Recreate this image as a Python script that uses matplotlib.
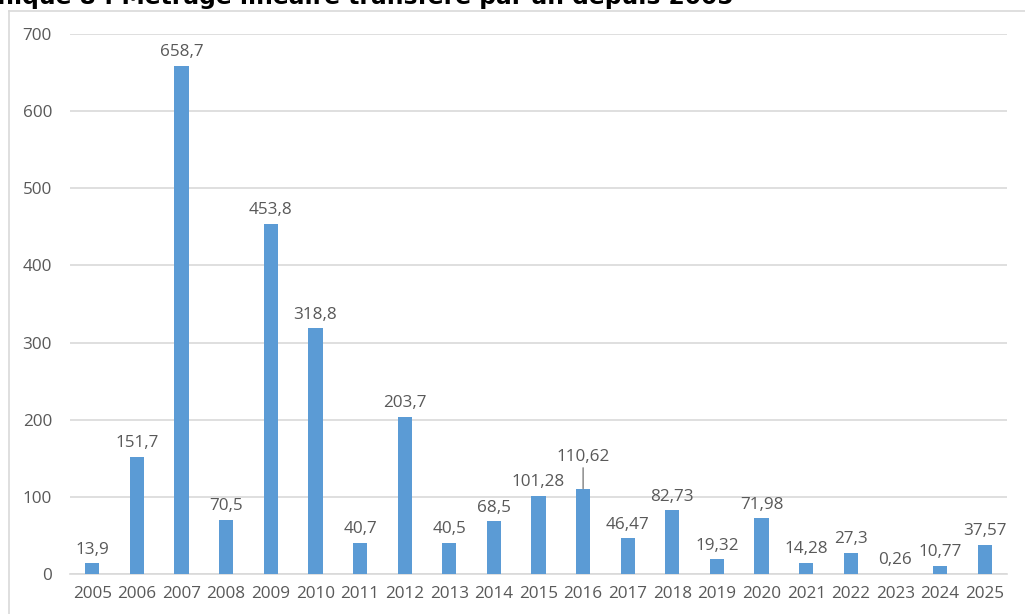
import matplotlib
matplotlib.use("Agg")
import matplotlib.pyplot as plt
from matplotlib.lines import Line2D

years = ['2005', '2006', '2007', '2008', '2009', '2010', '2011', '2012', '2013', '2014',
         '2015', '2016', '2017', '2018', '2019', '2020', '2021', '2022', '2023', '2024', '2025']
metres = [13.9, 151.7, 658.7, 70.5, 453.8, 318.8, 40.7, 203.7, 40.5, 68.5,
          101.28, 110.62, 46.47, 82.73, 19.32, 71.98, 14.28, 27.3, 0.26, 10.77, 37.57]
labels = ['13,9', '151,7', '658,7', '70,5', '453,8', '318,8', '40,7', '203,7', '40,5', '68,5',
          '101,28', '110,62', '46,47', '82,73', '19,32', '71,98', '14,28', '27,3', '0,26', '10,77', '37,57']

grey = '#595959'
plt.rcParams['font.family'] = ['Open Sans', 'DejaVu Sans']

fig = plt.figure(figsize=(10.25, 6.14), dpi=100)
# outer chart frame (left and top edges only visible)
fx = 8.5 / 1025
fy = 1 - 10.5 / 614
fig.lines.append(Line2D([fx, fx], [0, fy], transform=fig.transFigure, color='#D9D9D9', linewidth=1.2))
fig.lines.append(Line2D([fx, 1], [fy, fy], transform=fig.transFigure, color='#D9D9D9', linewidth=1.2))
fig.text(733 / 1025, 1 - 4 / 614, 'Graphique 8 : Métrage linéaire transféré par an depuis 2005',
         ha='right', va='baseline', fontsize=16.8, fontweight='bold', color='black',
         family='DejaVu Sans')

ax = fig.add_axes([70 / 1025, 1 - 574 / 614, 937 / 1025, 540 / 614])
x = range(len(years))
ax.bar(x, metres, width=0.32, color='#5B9BD5', zorder=3)
ax.set_xlim(-0.5, len(years) - 0.5)
ax.set_ylim(0, 700)
ax.set_yticks(range(0, 701, 100))
ax.set_xticks(list(x))
ax.set_xticklabels(years)
ax.grid(axis='y', color='#D9D9D9', linewidth=1.2, zorder=0)
for s in ax.spines.values():
    s.set_visible(False)
ax.spines['bottom'].set_visible(True)
ax.spines['bottom'].set_color('#D9D9D9')
ax.spines['bottom'].set_linewidth(1.2)
ax.tick_params(axis='both', length=0, colors=grey, labelsize=12.3)
ax.tick_params(axis='y', pad=13)
ax.tick_params(axis='x', pad=9)

for i, (v, lab) in enumerate(zip(metres, labels)):
    if lab == '110,62':
        ax.annotate(lab, xy=(i, v), xytext=(0, 17), textcoords='offset points',
                    ha='center', va='bottom', fontsize=12.3, color=grey,
                    arrowprops=dict(arrowstyle='-', color='#808080', linewidth=1,
                                    shrinkA=0, shrinkB=0))
    else:
        ax.annotate(lab, xy=(i, v), xytext=(0, 4), textcoords='offset points',
                    ha='center', va='bottom', fontsize=12.3, color=grey)

fig.savefig('out.png', dpi=100)
